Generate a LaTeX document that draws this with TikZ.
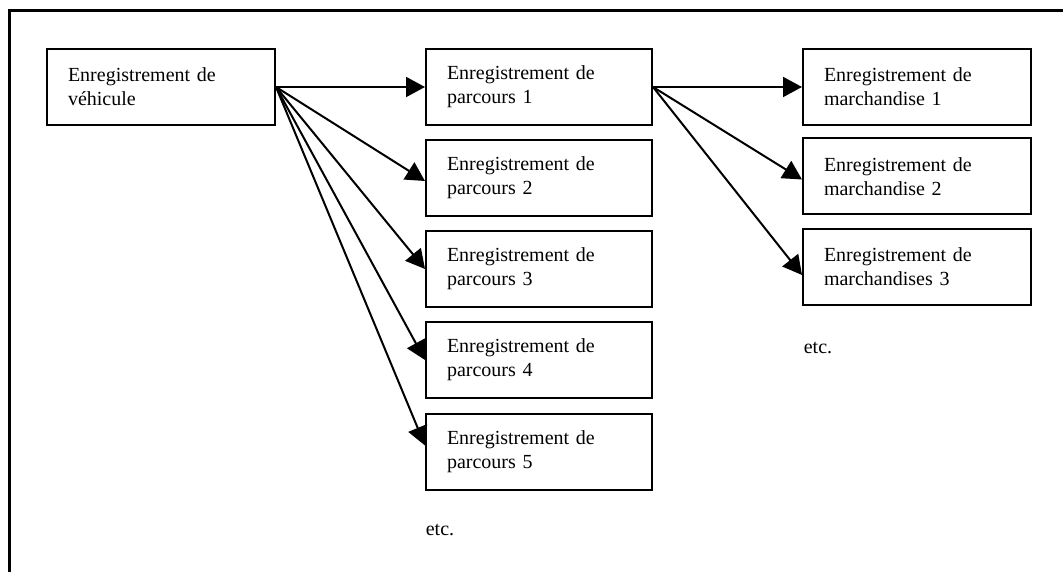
\documentclass[tikz,border=0pt]{standalone}
\usepackage{fontspec}
\setmainfont{Liberation Serif}
\usetikzlibrary{arrows.meta}

\tikzset{
  record/.style={draw, line width=2pt, rectangle, inner xsep=21pt, inner ysep=0pt,
    text width=#1, minimum height=76pt, align=left,
    font=\fontsize{20}{24}\selectfont},
  record/.default=186pt,
  link/.style={line width=2pt, -{Triangle[length=19pt,width=20pt]}},
  note/.style={inner sep=0pt, font=\fontsize{20}{24}\selectfont},
}

\begin{document}
\begin{tikzpicture}[x=1pt,y=-1pt]
  \useasboundingbox (0,0) rectangle (1063,572);

  % open frame: top and left edges only
  \draw[line width=3pt] (1063,11) -- (9.5,11) -- (9.5,572);

  % vehicle record
  \node[record] (veh) at (161,87) {Enregistrement de\\véhicule};

  % trip records
  \node[record=184pt] (p1) at (539,87)    {Enregistrement de\\parcours 1};
  \node[record=184pt] (p2) at (539,178)   {Enregistrement de\\parcours 2};
  \node[record=184pt] (p3) at (539,269)   {Enregistrement de\\parcours 3};
  \node[record=184pt] (p4) at (539,360)   {Enregistrement de\\parcours 4};
  \node[record=184pt] (p5) at (539,451.5) {Enregistrement de\\parcours 5};

  % goods records
  \node[record] (m1) at (917,87)    {Enregistrement de\\marchandise 1};
  \node[record] (m2) at (917,176.5) {Enregistrement de\\marchandise 2};
  \node[record] (m3) at (917,267)   {Enregistrement de\\marchandises 3};

  \node[note] (etc1) at (440,530) {etc.};
  \node[note] (etc2) at (818,348) {etc.};

  % links vehicle -> trips
  \draw[link] (veh.east) -- (p1.west);
  \draw[link] (veh.east) -- ([yshift=-3pt]p2.west);
  \draw[link] (veh.east) -- (p3.west);
  \draw[link] (veh.east) -- (p4.west);
  \draw[link] (veh.east) -- ([yshift=6pt]p5.west);

  % links trip 1 -> goods
  \draw[link] (p1.east) -- (m1.west);
  \draw[link] (p1.east) -- ([yshift=-3pt]m2.west);
  \draw[link] (p1.east) -- ([yshift=-8pt]m3.west);
\end{tikzpicture}
\end{document}
